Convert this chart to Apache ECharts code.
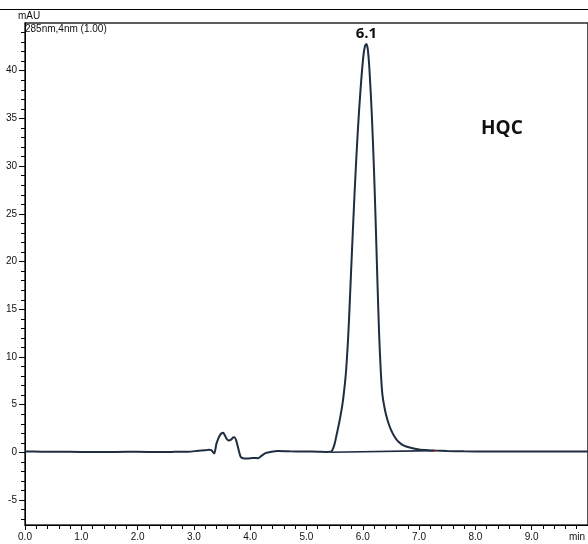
<!DOCTYPE html>
<html>
<head>
<meta charset="utf-8">
<script src="https://cdn.jsdelivr.net/npm/echarts@6/dist/echarts.min.js"></script>
<style>
html,body{margin:0;padding:0;background:#fff;}
#chart{width:588px;height:544px;}
</style>
</head>
<body>
<div id="chart"></div>
<script>
// Retention time (min)
var timeMin = [0,0.3,0.6,1.0,1.4,1.8,2.2,2.6,2.73,2.9,3.08,3.2,3.26,3.31,3.36,3.40,3.43,3.46,3.49,3.52,3.55,3.58,3.62,3.66,3.70,3.72,3.75,3.79,3.83,3.87,3.95,4.05,4.14,4.20,4.28,4.38,4.49,4.7,5.0,5.2,5.35,5.43,5.46,5.50,5.53,5.57,5.60,5.64,5.67,5.70,5.72,5.74,5.76,5.80,5.857,5.91,5.96,6.01,6.04,6.065,6.09,6.12,6.16,6.20,6.23,6.26,6.29,6.32,6.35,6.40,6.45,6.50,6.56,6.63,6.72,6.85,7.0,7.15,7.27,7.5,7.8,8.2,8.6,9.0,9.4,9.8,10.0];
// Absorbance (mAU)
var absorbance = [0.10,0.08,0.07,0.06,0.05,0.07,0.06,0.06,0.08,0.08,0.18,0.22,0.28,0.25,-0.12,0.9,1.4,1.78,2.0,2.06,1.8,1.45,1.25,1.35,1.58,1.6,1.3,0.38,-0.45,-0.6,-0.62,-0.58,-0.6,-0.35,-0.05,0.08,0.15,0.12,0.10,0.08,0.06,0.07,0.25,0.9,1.7,2.8,3.7,5.1,6.5,8.3,10.0,12.0,14.5,20.0,27.5,33.5,38.0,41.5,42.6,42.8,42.2,40.0,35.5,29.5,24.0,18.0,12.5,8.5,6.0,4.3,3.2,2.4,1.7,1.15,0.75,0.5,0.32,0.24,0.2,0.15,0.12,0.10,0.10,0.09,0.10,0.10,0.10];
// Integration baseline of the main peak
var baselineTime = [5.43, 7.27];
var baselineValue = [0.03, 0.19];
// Axis ticks
var yMajorTicks = [-5,0,5,10,15,20,25,30,35,40];
var yMinorTicks = [-7,-6,-5,-4,-3,-2,-1,0,1,2,3,4,5,6,7,8,9,10,11,12,13,14,15,16,17,18,19,20,21,22,23,24,25,26,27,28,29,30,31,32,33,34,35,36,37,38,39,40,41,42,43,44];
var xMajorTicks = [0,1,2,3,4,5,6,7,8,9,10];

var peakIdx = 0;
for (var i = 1; i < absorbance.length; i++) if (absorbance[i] > absorbance[peakIdx]) peakIdx = i;

var chart = echarts.init(document.getElementById('chart'), null, {renderer: 'canvas'});
var FONT = '"Liberation Sans", Arial, sans-serif';
var lineColor = '#1f2d40';

chart.setOption({
  animation: false,
  backgroundColor: '#fff',
  grid: {left: 25, top: 23, right: -5, bottom: 19, show: true, borderColor: '#2a2a2a', borderWidth: 1.5},
  xAxis: [{
    type: 'value', min: xMajorTicks[0], max: xMajorTicks[xMajorTicks.length - 1], interval: 1,
    axisLine: {show: true, onZero: false, lineStyle: {color: '#000', width: 1}},
    axisTick: {show: true, inside: false, length: 5, lineStyle: {color: '#000'}},
    minorTick: {show: true, splitNumber: 5, length: 4, lineStyle: {color: '#000'}},
    splitLine: {show: false},
    axisLabel: {
      margin: 7, fontSize: 10, fontFamily: FONT, color: '#111',
      showMaxLabel: true,
      formatter: function (v) { return v === 10 ? '{u|min}' : v.toFixed(1); },
      rich: {u: {fontSize: 10, fontFamily: FONT, color: '#111', padding: [0, 22, 0, 0]}}
    }
  }],
  yAxis: [{
    type: 'value', min: -7.6, max: 45, position: 'left',
    axisLine: {show: true, onZero: false, lineStyle: {color: '#000', width: 1}},
    axisTick: {show: true, inside: false, length: 6, customValues: yMajorTicks, lineStyle: {color: '#000'}},
    splitLine: {show: false},
    axisLabel: {margin: 8, fontSize: 10, fontFamily: FONT, color: '#111', customValues: yMajorTicks,
      formatter: function (v) { return String(v); }}
  }, {
    type: 'value', min: -7.6, max: 45, position: 'left', offset: 0,
    axisLine: {show: false, onZero: false},
    axisTick: {show: true, inside: false, length: 4, customValues: yMinorTicks, lineStyle: {color: '#000'}},
    splitLine: {show: false},
    axisLabel: {show: false}
  }],
  series: [{
    type: 'line',
    data: timeMin.map(function (t, i) { return [t, absorbance[i]]; }),
    showSymbol: false,
    smooth: 0.25,
    lineStyle: {color: lineColor, width: 2},
    z: 3,
    markPoint: {
      symbol: 'circle', symbolSize: 0,
      data: [{coord: [timeMin[peakIdx], absorbance[peakIdx]]}],
      label: {
        show: true, position: 'top', distance: 3,
        formatter: function () { return timeMin[peakIdx].toFixed(1); },
        fontSize: 15, fontWeight: 'bold', fontFamily: '"Open Sans", sans-serif', color: '#111'
      }
    }
  }, {
    type: 'line',
    data: baselineTime.map(function (t, i) { return [t, baselineValue[i]]; }),
    showSymbol: false,
    lineStyle: {color: lineColor, width: 1.6},
    z: 2
  }, {
    type: 'scatter',
    data: [[baselineTime[1], baselineValue[1]]],
    symbolSize: 2,
    itemStyle: {color: '#e00000'},
    z: 4
  }],
  graphic: [
    {type: 'line', shape: {x1: 0, y1: 9.5, x2: 588, y2: 9.5}, style: {stroke: '#000', lineWidth: 1}},
    {type: 'text', x: 18, y: 16.5, style: {text: 'mAU', font: '10px ' + FONT, fill: '#111', textVerticalAlign: 'middle'}},
    {type: 'text', x: 25, y: 29.5, style: {text: '285nm,4nm (1.00)', font: '10px ' + FONT, fill: '#111', textVerticalAlign: 'middle'}},
    {type: 'text', x: 481, y: 128.5, style: {text: 'HQC', font: 'bold 19px "Open Sans", sans-serif', fill: '#111', textVerticalAlign: 'middle'}}
  ]
});
</script>
</body>
</html>
